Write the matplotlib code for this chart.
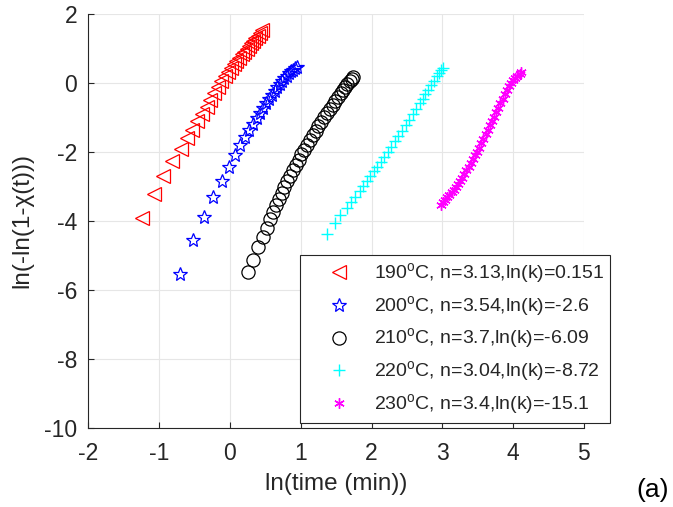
import matplotlib
matplotlib.use("Agg")
import matplotlib.pyplot as plt

plt.rcParams["font.family"] = ["Liberation Sans", "DejaVu Sans"]
plt.rcParams["mathtext.fontset"] = "custom"
plt.rcParams["mathtext.rm"] = "Liberation Sans"
plt.rcParams["axes.unicode_minus"] = False

# ln(time) / ln(-ln(1-X)), one pair of lists per temperature
x_190 = [-1.24, -1.08, -0.95, -0.82, -0.69, -0.60, -0.53, -0.46, -0.39, -0.33, -0.275, -0.22, -0.17, -0.12, -0.075,
         -0.03, 0.01, 0.05, 0.09, 0.13, 0.165, 0.20, 0.235, 0.27, 0.30, 0.33, 0.36, 0.39, 0.42, 0.45]
y_190 = [-3.93, -3.22, -2.70, -2.28, -1.92, -1.60, -1.36, -1.12, -0.92, -0.70, -0.50, -0.31, -0.13, 0.04, 0.18,
         0.32, 0.43, 0.53, 0.63, 0.73, 0.82, 0.90, 0.99, 1.07, 1.14, 1.22, 1.29, 1.36, 1.45, 1.53]

x_200 = [-0.706, -0.518, -0.363, -0.236, -0.117, -0.014, 0.071, 0.141, 0.212, 0.27, 0.325, 0.375, 0.42, 0.465,
         0.51, 0.55, 0.59, 0.63, 0.665, 0.70, 0.735, 0.77, 0.80, 0.83, 0.86, 0.89, 0.915, 0.94]
y_200 = [-5.55, -4.56, -3.88, -3.30, -2.84, -2.43, -2.10, -1.81, -1.57, -1.38, -1.20, -1.03, -0.88, -0.74,
         -0.60, -0.47, -0.35, -0.23, -0.13, -0.04, 0.05, 0.13, 0.20, 0.27, 0.33, 0.38, 0.42, 0.45]

x_210 = [0.25, 0.33, 0.39, 0.47, 0.52, 0.565, 0.61, 0.65, 0.69, 0.73, 0.77, 0.81, 0.85, 0.89, 0.93, 0.97, 1.01,
         1.05, 1.09, 1.13, 1.17, 1.21, 1.25, 1.29, 1.33, 1.37, 1.41, 1.45, 1.49, 1.53, 1.57, 1.60, 1.63, 1.66,
         1.69, 1.72, 1.74]
y_210 = [-5.50, -5.14, -4.75, -4.46, -4.20, -3.95, -3.74, -3.55, -3.37, -3.19, -3.02, -2.85, -2.69, -2.53, -2.38,
         -2.23, -2.08, -1.94, -1.80, -1.66, -1.52, -1.39, -1.26, -1.13, -1.00, -0.88, -0.76, -0.64, -0.52, -0.41,
         -0.30, -0.21, -0.12, -0.04, 0.04, 0.11, 0.17]

x_220 = [1.37, 1.49, 1.55, 1.65, 1.71, 1.77, 1.83, 1.88, 1.93, 1.98, 2.03, 2.08, 2.13, 2.18, 2.23, 2.28, 2.33,
         2.38, 2.43, 2.48, 2.53, 2.58, 2.63, 2.68, 2.72, 2.76, 2.80, 2.84, 2.88, 2.92, 2.95, 2.98, 3.01]
y_220 = [-4.39, -4.08, -3.84, -3.64, -3.45, -3.30, -3.14, -2.99, -2.85, -2.71, -2.57, -2.43, -2.29, -2.14, -2.00,
         -1.85, -1.70, -1.55, -1.39, -1.23, -1.07, -0.91, -0.75, -0.59, -0.46, -0.33, -0.20, -0.07, 0.06, 0.19,
         0.29, 0.37, 0.44]

x_230 = [2.98, 3.01, 3.04, 3.07, 3.10, 3.13, 3.16, 3.19, 3.22, 3.25, 3.28, 3.31, 3.34, 3.37, 3.40, 3.43, 3.46,
         3.49, 3.52, 3.55, 3.58, 3.61, 3.64, 3.67, 3.70, 3.73, 3.76, 3.79, 3.82, 3.85, 3.88, 3.91, 3.94, 3.97,
         4.00, 4.03, 4.06, 4.09, 4.11]
y_230 = [-3.54, -3.47, -3.40, -3.32, -3.25, -3.17, -3.10, -3.03, -2.95, -2.85, -2.75, -2.65, -2.54, -2.44, -2.33,
         -2.22, -2.11, -2.00, -1.88, -1.75, -1.62, -1.49, -1.36, -1.24, -1.11, -0.99, -0.86, -0.73, -0.60, -0.47,
         -0.34, -0.22, -0.10, 0.00, 0.07, 0.14, 0.20, 0.26, 0.30]

temperatures = [190, 200, 210, 220, 230]
n_values = ["3.13", "3.54", "3.7", "3.04", "3.4"]
lnk_values = ["0.151", "-2.6", "-6.09", "-8.72", "-15.1"]

x_ticks = [-2, -1, 0, 1, 2, 3, 4, 5]
y_ticks = [-10, -8, -6, -4, -2, 0, 2]

AX_COLOR = "#262626"


def main() -> None:
    series = [(x_190, y_190), (x_200, y_200), (x_210, y_210), (x_220, y_220), (x_230, y_230)]
    styles = [
        dict(marker="<", color="red", ms=9.5, mfc="none", mew=0.9),
        dict(marker="*", color="blue", ms=10, mfc="none", mew=0.9),
        dict(marker="o", color="black", ms=9.5, mfc="none", mew=0.9),
        dict(marker="+", color="cyan", ms=9, mew=1.0),
        dict(marker=(6, 2, 0), color="magenta", ms=7.5, mew=1.0),
    ]

    fig = plt.figure(figsize=(6.73, 5.07), dpi=100)
    ax = fig.add_axes([0.1313, 0.1564, 0.7364, 0.8166])

    for (xs, ys), style, temp, n, lnk in zip(series, styles, temperatures, n_values, lnk_values):
        label = f"{temp}" + r"$^{\mathregular{o}}$" + f"C, n={n},ln(k)={lnk}"
        ax.plot(xs, ys, linestyle="none", label=label, **style)

    ax.set_xlim(-2, 5)
    ax.set_ylim(-10, 2)
    ax.set_xticks(x_ticks)
    ax.set_yticks(y_ticks)
    ax.grid(True, color="#e6e6e6", linewidth=0.8)
    ax.set_axisbelow(True)
    for side in ("top", "right"):
        ax.spines[side].set_visible(False)
    for side in ("left", "bottom"):
        ax.spines[side].set_color(AX_COLOR)
        ax.spines[side].set_linewidth(0.8)
    ax.tick_params(direction="in", length=4, width=0.8, colors=AX_COLOR, labelsize=16.5)
    ax.tick_params(axis="x", pad=10)
    ax.tick_params(axis="y", pad=8)

    ax.set_xlabel("ln(time (min))", fontsize=17.5, color=AX_COLOR, labelpad=6)
    ax.set_ylabel("ln(-ln(1-χ(t)))", fontsize=17.5, color=AX_COLOR, labelpad=8)

    leg = ax.legend(
        loc="lower left",
        bbox_to_anchor=(300 / 673, 1 - 423 / 507),
        bbox_transform=fig.transFigure,
        borderaxespad=0,
        fontsize=14,
        frameon=True,
        fancybox=False,
        framealpha=1,
        edgecolor=AX_COLOR,
        borderpad=0.3,
        handlelength=3.4,
        handletextpad=0.1,
        labelspacing=0.42,
        numpoints=1,
    )
    leg.get_frame().set_linewidth(0.8)
    for txt in leg.get_texts():
        txt.set_color(AX_COLOR)

    fig.text(653 / 673, 1 - 490 / 507, "(a)", fontsize=19, ha="center", va="center", color="black")

    fig.savefig("out.png", dpi=100)
    plt.close(fig)


if __name__ == "__main__":
    main()
